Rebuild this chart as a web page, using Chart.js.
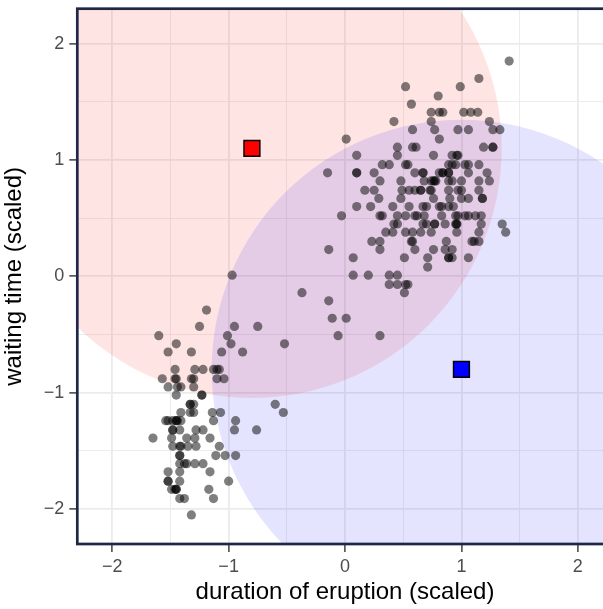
<!DOCTYPE html>
<html>
<head>
<meta charset="utf-8">
<script src="https://cdn.jsdelivr.net/npm/chart.js@4.4.1/dist/chart.umd.min.js"></script>
<style>
  html, body { margin: 0; padding: 0; overflow: hidden; background: #ffffff; }
  #wrap { position: relative; width: 603px; height: 609px; }
  #c { display: block; width: 603px; height: 609px; }
</style>
</head>
<body>
<div id="wrap"><canvas id="c" width="603" height="609"></canvas></div>
<script>
// Old Faithful eruptions, scaled
const durationScaled = [
  0.10,-1.48,-0.14,-1.06,0.92,-0.53,1.06,0.10,-1.35,0.76,-1.45,0.38,0.62,-1.52,1.06,-1.16,-1.52,1.15,-1.65,0.67,
  -1.48,-1.52,-0.03,-0.37,0.92,0.10,-1.33,0.52,0.32,0.83,0.71,0.86,-0.11,0.48,0.30,-1.29,-1.42,1.18,-1.45,1.14,
  0.76,-1.41,0.95,-1.52,0.92,-0.15,0.30,-1.22,1.00,-1.30,1.15,1.08,-1.45,1.18,-1.54,1.22,0.20,-1.60,0.95,0.73,
  -1.10,0.89,-1.52,1.15,-1.46,0.80,0.60,1.06,-1.25,1.06,0.48,-1.33,0.89,0.45,-1.32,1.38,-1.29,0.95,0.35,0.10,
  0.57,0.74,0.54,-0.75,0.51,1.27,0.41,0.90,-1.16,0.45,-1.13,0.74,-1.42,1.17,-1.45,0.71,1.03,0.23,-1.42,1.24,
  -0.88,0.77,-1.22,0.89,0.49,-1.42,1.06,-1.49,1.19,0.17,1.09,-1.04,1.24,0.81,-1.57,1.00,-1.03,0.97,-1.46,0.81,
  -0.76,0.51,0.67,-1.33,0.97,0.25,-1.38,0.89,-1.07,1.02,-1.42,0.60,-0.60,0.74,-1.45,0.78,-1.41,1.27,-1.28,0.22,
  0.65,-1.10,0.92,1.17,0.74,-1.32,1.00,-1.29,1.41,-1.48,1.35,0.45,-0.95,0.97,0.07,0.45,0.89,0.52,-1.48,0.42,
  -1.13,0.58,-1.30,0.30,0.01,0.96,-0.98,1.33,-1.36,0.99,-1.38,-1.23,0.96,-0.14,0.60,0.74,0.89,-0.94,0.45,0.60,
  -1.41,0.96,0.67,0.25,-1.28,0.83,0.52,-1.45,0.81,-1.14,1.15,-1.45,1.15,0.54,0.42,0.65,0.01,0.77,-1.08,1.03,
  -1.22,0.76,0.57,-1.42,0.97,-1.49,0.77,0.32,-1.36,0.89,-0.97,1.06,-1.42,0.30,-0.06,0.65,-0.95,1.15,-1.30,0.58,
  -1.42,0.68,-1.52,0.87,0.45,0.55,0.52,0.68,0.38,0.93,0.52,-0.94,0.61,-1.11,0.84,-1.41,-1.44,0.70,0.41,-1.01,
  0.58,-1.00,1.27,-0.52,0.96,0.30,-1.23,0.77,-1.19,0.76,-1.13,0.84,0.07,0.89,0.58,0.29,0.38,0.84,-1.30,0.70,
  1.12,0.92,-1.44,0.67,-1.32,-1.08,1.11,0.55,-1.17,0.81,-1.46,0.86
];
const waitingScaled = [
  0.60,-1.24,0.23,-0.65,1.04,-1.17,1.26,1.04,-1.46,1.04,-1.24,0.96,0.52,-1.76,0.89,-1.39,-0.65,0.96,-1.39,0.60,
  -1.46,-1.76,0.52,-0.14,0.23,0.89,-1.17,0.38,0.52,0.60,0.16,0.45,-0.36,0.67,0.23,-1.39,-1.68,0.67,-0.88,1.41,
  0.67,-0.95,0.96,-0.95,0.16,0.89,-0.51,-1.32,0.82,-0.88,0.30,1.41,-1.24,0.67,-1.24,0.89,0.01,-0.51,0.45,0.74,
  -0.88,0.96,-1.68,0.82,-0.80,1.55,0.52,0.52,-0.43,0.16,0.82,-1.10,0.60,0.01,-0.65,0.38,-0.80,0.52,0.38,0.89,
  0.30,0.82,-0.07,-0.43,0.16,1.26,0.38,0.67,-1.68,1.11,-0.80,1.41,-1.54,0.52,-0.58,0.08,0.96,0.30,-1.46,0.82,
  -0.65,1.26,-1.61,0.89,0.74,-1.76,0.96,-1.39,1.11,0.74,0.30,-0.88,1.33,0.60,-0.88,0.74,-1.54,1.04,-0.88,1.18,
  -1.32,-0.14,0.45,-1.10,1.26,0.74,-1.91,0.82,-1.17,1.41,-1.91,0.89,-1.10,1.33,-1.83,0.82,-1.46,1.11,-1.32,0.60,
  0.74,-0.80,0.82,0.45,0.38,-0.88,0.67,-1.61,1.85,-1.32,0.45,0.45,-0.43,0.74,0.01,-0.07,0.74,1.63,-1.32,1.33,
  -1.91,1.11,-0.95,0.52,-0.36,0.38,-0.58,1.26,-1.39,1.63,-1.61,-1.02,0.45,-0.21,0.74,0.74,0.16,-1.54,1.04,0.23,
  -1.17,0.45,0.89,0.89,-1.46,0.52,0.96,-1.83,0.89,-1.17,0.74,-1.02,0.38,0.96,0.45,0.74,1.18,0.45,-1.46,0.52,
  -0.80,0.82,1.48,-1.32,0.52,-1.83,0.45,0.96,-1.61,0.89,0.01,0.67,-1.61,0.30,-0.51,0.38,-1.32,1.70,-1.17,0.38,
  -1.54,0.82,-1.24,0.30,0.52,0.60,0.52,0.52,-0.07,0.60,-0.07,-1.24,1.11,-1.54,1.41,-1.24,-1.24,0.45,0.60,-0.51,
  0.30,-1.76,1.11,-0.58,1.04,0.82,-1.02,0.82,-0.29,0.23,-1.24,0.89,0.16,0.16,1.26,0.67,0.01,0.89,-1.10,0.60,
  0.52,0.96,-0.95,0.89,-2.05,-0.80,0.30,0.74,-1.83,1.41,-1.83,0.23
];

// Component means (squares) and their contour radius (90% level of unit covariance)
const meanX = [-0.8, 1.0];
const meanY = [1.1, -0.8];
const meanColors = ['#ff0000', '#0000ff'];
const contourFills = ['rgba(255,0,0,0.105)', 'rgba(0,0,255,0.105)'];
const contourRadius = 2.146;

// Axes (the panel runs from -2.3 to 2.3 on both axes; the page cuts its right edge)
const xTickValues = [-2, -1, 0, 1, 2];
const xTickLabels = ['\u22122', '\u22121', '0', '1', '2'];
const yTickValues = [-2, -1, 0, 1, 2];
const yTickLabels = ['\u22122', '\u22121', '0', '1', '2'];
const gridValues = [-2, -1.5, -1, -0.5, 0, 0.5, 1, 1.5, 2];
const panelMin = -2.3, panelMax = 2.3, xVisibleMax = 2.216;
const xTitle = 'duration of eruption (scaled)';
const yTitle = 'waiting time (scaled)';

const FONT = "'Liberation Sans', Arial, Helvetica, sans-serif";
const isMajor = v => Math.abs(v - Math.round(v)) < 1e-9;

const points = durationScaled.map((x, i) => ({ x: x, y: waitingScaled[i] }));
const means = meanX.map((x, i) => ({ x: x, y: meanY[i] }));

const contourPlugin = {
  id: 'contours',
  beforeDatasetsDraw(chart) {
    const { ctx, chartArea: a, scales: { x, y } } = chart;
    ctx.save();
    ctx.beginPath();
    ctx.rect(a.left, a.top, a.right - a.left, a.bottom - a.top);
    ctx.clip();
    meanX.forEach((mx, i) => {
      const cx = x.getPixelForValue(mx);
      const cy = y.getPixelForValue(meanY[i]);
      const rx = Math.abs(x.getPixelForValue(mx + contourRadius) - cx);
      const ry = Math.abs(y.getPixelForValue(meanY[i] + contourRadius) - cy);
      ctx.beginPath();
      ctx.ellipse(cx, cy, rx, ry, 0, 0, Math.PI * 2);
      ctx.fillStyle = contourFills[i];
      ctx.fill();
    });
    ctx.restore();
  }
};

// panel border (left, top, bottom; the right side lies beyond the page) + x title centred on the panel
const framePlugin = {
  id: 'frame',
  afterDatasetsDraw(chart) {
    const { ctx, chartArea: a, scales: { x } } = chart;
    const right = x.getPixelForValue(panelMax);
    ctx.save();
    ctx.strokeStyle = '#1f2747';
    ctx.lineWidth = 2.7;
    ctx.strokeRect(a.left, a.top, right - a.left, a.bottom - a.top);
    ctx.restore();
  },
  afterDraw(chart) {
    const { ctx, scales: { x } } = chart;
    const cx = (x.getPixelForValue(panelMin) + x.getPixelForValue(panelMax)) / 2;
    ctx.save();
    ctx.font = '24px ' + FONT;
    ctx.fillStyle = '#000000';
    ctx.textAlign = 'center';
    ctx.textBaseline = 'alphabetic';
    ctx.fillText(xTitle, cx, 599);
    ctx.restore();
  }
};

function axisOpts(tickValues, tickLabels, isX) {
  return {
    type: 'linear',
    min: panelMin,
    max: isX ? xVisibleMax : panelMax,
    afterBuildTicks: s => { s.ticks = gridValues.map(v => ({ value: v })); },
    afterFit: s => {
      if (isX) { s.height = 65; s.paddingLeft = 0; s.paddingRight = 0; }
      else { s.width = 77.3; s.paddingTop = 0; s.paddingBottom = 0; }
    },
    border: { display: false },
    grid: {
      color: '#ebebeb',
      lineWidth: c => (c.tick && isMajor(c.tick.value)) ? 1.8 : 0.9,
      tickColor: c => (c.tick && isMajor(c.tick.value)) ? '#333333' : 'rgba(0,0,0,0)',
      tickWidth: 1.4,
      tickLength: 8
    },
    ticks: {
      autoSkip: false,
      maxRotation: 0,
      color: '#4d4d4d',
      font: { family: FONT, size: 18 },
      padding: isX ? 4 : 5,
      callback: v => {
        const k = tickValues.indexOf(v);
        return k >= 0 ? tickLabels[k] : '';
      }
    },
    title: isX ? { display: false } : {
      display: true,
      text: yTitle,
      color: '#000000',
      font: { family: FONT, size: 24 },
      padding: { top: 0, bottom: 8 }
    }
  };
}

new Chart(document.getElementById('c'), {
  type: 'scatter',
  data: {
    datasets: [
      {
        label: 'eruptions',
        data: points,
        backgroundColor: 'rgba(0,0,0,0.5)',
        borderWidth: 0,
        pointRadius: 4.6,
        pointHoverRadius: 4.6
      },
      {
        label: 'means',
        data: means,
        pointStyle: 'rect',
        backgroundColor: meanColors,
        borderColor: '#000000',
        borderWidth: 1.5,
        pointRadius: 11.2,
        pointHoverRadius: 11.2
      }
    ]
  },
  options: {
    responsive: false,
    maintainAspectRatio: false,
    animation: false,
    devicePixelRatio: 1,
    layout: { autoPadding: false, padding: { left: 0, right: 0, top: 8.7, bottom: 0 } },
    plugins: { legend: { display: false }, tooltip: { enabled: false } },
    scales: {
      x: axisOpts(xTickValues, xTickLabels, true),
      y: axisOpts(yTickValues, yTickLabels, false)
    }
  },
  plugins: [contourPlugin, framePlugin]
});
</script>
</body>
</html>
